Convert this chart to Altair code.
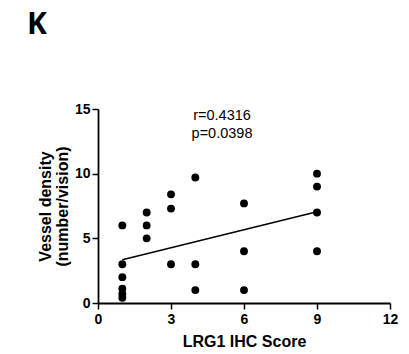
import altair as alt
import pandas as pd

# LRG1 IHC score (x) and vessel density (y)
score = [1, 1, 1, 1, 1, 1,
         2, 2, 2,
         3, 3, 3,
         4, 4, 4,
         6, 6, 6,
         9, 9, 9, 9]
density = [6.0, 3.0, 2.0, 1.1, 0.7, 0.4,
           7.0, 6.0, 5.0,
           8.4, 7.3, 3.0,
           9.7, 3.0, 1.0,
           7.7, 4.0, 1.0,
           10.0, 9.0, 7.0, 4.0]

# fitted line end points
fit_x = [1, 9]
fit_y = [3.35, 7.05]

stats_text = "r=0.4316\np=0.0398"
panel_label = "K"

x_ticks = [0, 3, 6, 9, 12]
y_ticks = [0, 5, 10, 15]

pts = pd.DataFrame({"score": score, "density": density})
fit = pd.DataFrame({"score": fit_x, "density": fit_y})

FONT = "Liberation Sans"

xenc = alt.X("score:Q", scale=alt.Scale(domain=[0, 12], nice=False, zero=True),
             axis=alt.Axis(values=x_ticks, title="LRG1 IHC Score", format="d"))
yenc = alt.Y("density:Q", scale=alt.Scale(domain=[0, 15], nice=False),
             axis=alt.Axis(values=y_ticks, title=["Vessel density", "(number/vision)"], format="d"))

points = alt.Chart(pts).mark_circle(size=62, color="black", opacity=1).encode(x=xenc, y=yenc)

line = alt.Chart(fit).mark_line(color="black", strokeWidth=1.5).encode(x="score:Q", y="density:Q")

stats = alt.Chart(pd.DataFrame({"t": [stats_text]})).mark_text(
    font=FONT, fontSize=14.5, align="center", baseline="alphabetic", color="black",
    lineBreak="\n", lineHeight=17.5,
).encode(text="t:N", x=alt.value(124), y=alt.value(11))

klabel = alt.Chart(pd.DataFrame({"t": [panel_label]})).mark_text(
    font="Open Sans", fontSize=30, fontWeight="bold", align="left", baseline="alphabetic", color="black"
).encode(text="t:N", x=alt.value(-71), y=alt.value(-75))

chart = alt.layer(line, points, stats, klabel).properties(
    width=292, height=194,
    autosize=alt.AutoSizeParams(type="none"),
    padding={"left": 90, "top": 101, "right": 11, "bottom": 51},
).configure_view(stroke=None).configure_axis(
    grid=False,
    domainColor="black", domainWidth=1.8,
    tickColor="black", tickWidth=1.5, tickSize=6,
    labelFont=FONT, labelFontSize=14, labelFontWeight="bold", labelColor="black",
    titleFont=FONT, titleFontSize=16, titleFontWeight="bold", titleColor="black",
).configure_axisX(
    labelPadding=3, titlePadding=7, labelFlush=False,
).configure_axisY(
    labelPadding=2, titlePadding=4, titleLineHeight=17,
)

chart.save("out.html", embed_options={"renderer": "svg", "actions": False})
